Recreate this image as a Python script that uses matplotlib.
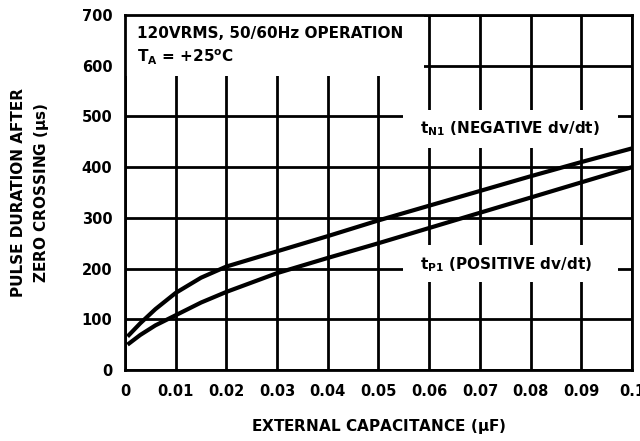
import matplotlib
matplotlib.use('Agg')
from matplotlib import pyplot as plt
from matplotlib.patches import Rectangle

plt.rcParams["font.family"] = "DejaVu Sans"
plt.rcParams["font.weight"] = "bold"
plt.rcParams["axes.labelweight"] = "bold"
plt.rcParams["font.size"] = 11
plt.rcParams["mathtext.fontset"] = "custom"
plt.rcParams["mathtext.rm"] = "DejaVu Sans:bold"
plt.rcParams["mathtext.it"] = "DejaVu Sans:bold"
plt.rcParams["mathtext.bf"] = "DejaVu Sans:bold"
plt.rcParams["mathtext.default"] = "rm"

# data
cap = [0.0005, 0.003, 0.006, 0.01, 0.015, 0.02, 0.03, 0.04, 0.05, 0.06, 0.07, 0.08, 0.09, 0.1]
t_n1 = [66, 92, 120, 152, 182, 204, 234, 264, 295, 324, 353, 382, 410, 437]
t_p1 = [50, 69, 88, 108, 133, 154, 191, 221, 250, 280, 310, 340, 370, 400]

x_ticks = [0, 0.01, 0.02, 0.03, 0.04, 0.05, 0.06, 0.07, 0.08, 0.09, 0.1]
x_labels = ['0', '0.01', '0.02', '0.03', '0.04', '0.05', '0.06', '0.07', '0.08', '0.09', '0.1']
y_ticks = [0, 100, 200, 300, 400, 500, 600, 700]

fig = plt.figure(figsize=(6.4, 4.41), dpi=100)
ax = fig.add_axes([0.1953, 0.161, 0.7922, 0.805])

ax.plot(cap, t_n1, color='k', lw=3.0, solid_capstyle='butt', zorder=3)
ax.plot(cap, t_p1, color='k', lw=3.0, solid_capstyle='butt', zorder=3)

ax.set_xlim(0, 0.1)
ax.set_ylim(0, 700)
ax.set_xticks(x_ticks)
ax.set_xticklabels(x_labels)
ax.set_yticks(y_ticks)
ax.tick_params(length=0, labelsize=10.5)
ax.tick_params(axis='x', pad=10)
ax.tick_params(axis='y', pad=9)
ax.set_axisbelow(True)
ax.grid(True, color='k', lw=2.0)
for s in ax.spines.values():
    s.set_linewidth(2.0)
    s.set_zorder(4)

# white boxes behind the labels
ax.add_patch(Rectangle((0, 580), 0.059, 120, facecolor='white', edgecolor='none', zorder=1.5))
ax.add_patch(Rectangle((0.0548, 438), 0.0424, 75, facecolor='white', edgecolor='none', zorder=1.5))
ax.add_patch(Rectangle((0.0548, 174), 0.0424, 72, facecolor='white', edgecolor='none', zorder=1.5))

ax.text(0.0024, 655, '120VRMS, 50/60Hz OPERATION', fontsize=11, zorder=5)
ax.text(0.0024, 607, r'T$_{A}$ = +25$^{o}$C', fontsize=11, zorder=5)
ax.text(0.0582, 476, r't$_{N1}$ (NEGATIVE dv/dt)', fontsize=11, va='center', zorder=5)
ax.text(0.0582, 207, r't$_{P1}$ (POSITIVE dv/dt)', fontsize=11, va='center', zorder=5)

ax.set_xlabel(r'EXTERNAL CAPACITANCE ($\mu$F)', fontsize=11, labelpad=13)
ax.set_ylabel('PULSE DURATION AFTER\nZERO CROSSING ($\\mu$s)', fontsize=11, labelpad=22,
              linespacing=1.45)

fig.savefig('out.png', dpi=100)
